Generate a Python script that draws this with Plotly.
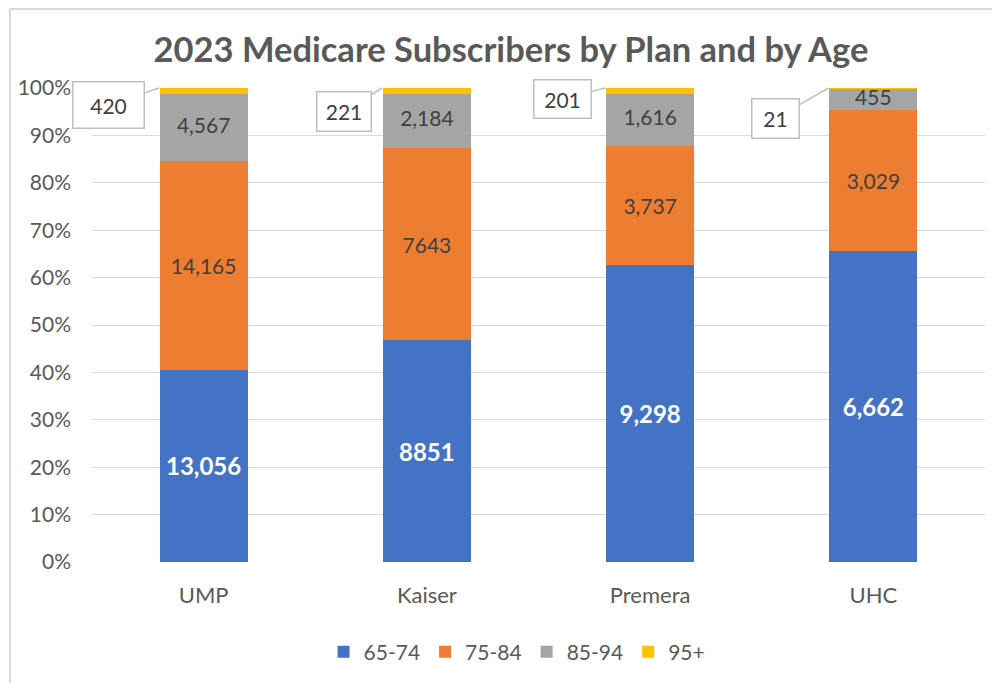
import plotly.graph_objects as go

plans = ["UMP", "Kaiser", "Premera", "UHC"]
age_groups = ["65-74", "75-84", "85-94", "95+"]
v_65_74 = [13056, 8851, 9298, 6662]
v_75_84 = [14165, 7643, 3737, 3029]
v_85_94 = [4567, 2184, 1616, 455]
v_95p = [420, 221, 201, 21]
lbl_65_74 = ["13,056", "8851", "9,298", "6,662"]
lbl_75_84 = ["14,165", "7643", "3,737", "3,029"]
lbl_85_94 = ["4,567", "2,184", "1,616", "455"]
lbl_95p = ["420", "221", "201", "21"]
colors = ["#4472C4", "#ED7D31", "#A5A5A5", "#FFC000"]

FONT = "Lato"
series = [v_65_74, v_75_84, v_85_94, v_95p]
labels = [lbl_65_74, lbl_75_84, None, None]
fig = go.Figure()
for i, (name, vals, lab, col) in enumerate(zip(age_groups, series, labels, colors)):
    kw = {}
    if lab is not None:
        kw = dict(text=lab, texttemplate="%{text}", textposition="inside",
                  insidetextanchor="middle",
                  textfont=dict(family=FONT, size=24 if i == 0 else 21,
                                color="white" if i == 0 else "#404040",
                                weight="bold" if i == 0 else "normal"))
    fig.add_trace(go.Bar(x=plans, y=vals, name=name, marker=dict(color=col, line=dict(width=0)),
                         **kw))

# 85-94 labels placed at the segment middles (fraction of plan total)
totals = [a + b + c + d for a, b, c, d in zip(*series)]
mid_85_94 = [(a + b + c / 2) / t for a, b, c, t in zip(v_65_74, v_75_84, v_85_94, totals)]
fig.add_trace(go.Scatter(x=plans, y=mid_85_94, mode="text", text=lbl_85_94,
                         textposition="middle center", showlegend=False, hoverinfo="skip",
                         textfont=dict(family=FONT, size=21, color="#404040")))

# callouts for 95+
offsets = [(-50, 17), (-38, 23), (-43, 11), (-53, 30)]
boxes = [(66, 41), (49, 34), (52, 33), (42, 34)]
for i, (lab, (ax, ay), (bw, bh)) in enumerate(zip(lbl_95p, offsets, boxes)):
    fig.add_annotation(x=i - 0.2, y=1.0, xref="x", yref="y", text=lab,
                       showarrow=True, arrowhead=0, arrowwidth=1.5, arrowcolor="#BFBFBF",
                       ax=ax, ay=ay, axref="pixel", ayref="pixel",
                       width=bw, height=bh,
                       bordercolor="#BFBFBF", borderwidth=1.5, borderpad=2, bgcolor="white",
                       font=dict(family=FONT, size=21, color="#404040"), standoff=0)

# chart frame (left and top edges)
fig.add_shape(type="line", xref="paper", yref="paper", x0=-0.0918, x1=1.2, y0=1.1667, y1=1.1667,
              line=dict(color="#D9D9D9", width=2), layer="below")
fig.add_shape(type="line", xref="paper", yref="paper", x0=-0.0918, x1=-0.0918, y0=1.1667, y1=-0.3,
              line=dict(color="#D9D9D9", width=2), layer="below")

fig.update_layout(
    width=992, height=675,
    barmode="stack", barnorm="fraction", bargap=0.605,
    paper_bgcolor="white", plot_bgcolor="white",
    margin=dict(l=84, r=15, t=80, b=121, autoexpand=False),
    title=dict(text="<b>2023 Medicare Subscribers by Plan and by Age</b>",
               x=0.507, xanchor="center", y=0.938, yanchor="middle",
               font=dict(family=FONT, size=34.5, color="#595959")),
    font=dict(family=FONT, color="#595959", size=21),
    xaxis=dict(range=[-0.5, 3.5], showgrid=False, showline=False, ticks="", automargin=False,
               tickfont=dict(size=22, color="#595959")),
    yaxis=dict(range=[0, 1], dtick=0.1, tickformat=".0%", showgrid=True, gridcolor="#D9D9D9",
               gridwidth=1, zeroline=False, showline=False, ticks="", automargin=False,
               tickfont=dict(size=21, color="#595959")),
    legend=dict(orientation="h", x=0.476, xanchor="center", y=-0.19, yanchor="middle",
                font=dict(size=21, color="#595959"), itemwidth=30, traceorder="normal"),
    showlegend=True,
)
fig.update_xaxes(ticklabelstandoff=18)
fig.update_yaxes(ticklabelstandoff=20)

fig.write_html("out.html")
